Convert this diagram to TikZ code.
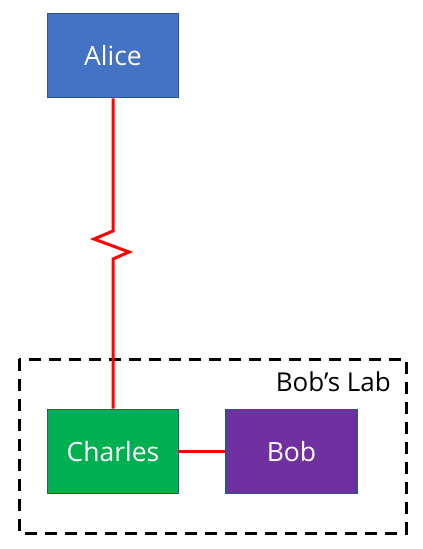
\documentclass[tikz,border=0pt]{standalone}
\usepackage{fontspec}
\setmainfont{Open Sans}
\usepackage{xcolor}
\usepackage{tikz}
\usetikzlibrary{positioning}
\definecolor{edgeblue}{HTML}{2F528F}
\definecolor{aliceblue}{HTML}{4472C4}
\definecolor{charlesgreen}{HTML}{00B050}
\definecolor{bobpurple}{HTML}{7030A0}
\definecolor{linkred}{HTML}{FF0000}
\tikzset{
  party/.style={draw=edgeblue,line width=1.6pt,minimum width=131pt,minimum height=84pt,
                inner sep=0pt,text=white,font=\fontsize{26.5}{30}\selectfont},
  link/.style={draw=linkred,line width=3pt}
}

\begin{document}
\begin{tikzpicture}[x=1pt,y=-1pt]
  \useasboundingbox (0,0) rectangle (423,549);
  % lab boundary
  \draw[line width=3pt,dash pattern=on 12pt off 8pt] (19,359) rectangle (406,533);
  \node[anchor=base east,inner sep=0pt,font=\fontsize{26}{30}\selectfont] (lab) at (391,391) {Bob’s Lab};
  % parties
  \node[party,fill=aliceblue] (alice) at (113,55.5) {Alice};
  \node[party,fill=charlesgreen] (charles) at (113,451.5) {Charles};
  \node[party,fill=bobpurple] (bob) at (291.5,451.5) {Bob};
  % long-distance link with break
  \coordinate (zzA) at (113,231);
  \coordinate (zzB) at (94,239);
  \coordinate (zzC) at (129,252);
  \coordinate (zzD) at (113,259);
  \draw[link] (alice.south) -- (zzA) -- (zzB) -- (zzC) -- (zzD) -- (charles.north);
  \draw[link] (charles.east) -- (bob.west);
\end{tikzpicture}
\end{document}
